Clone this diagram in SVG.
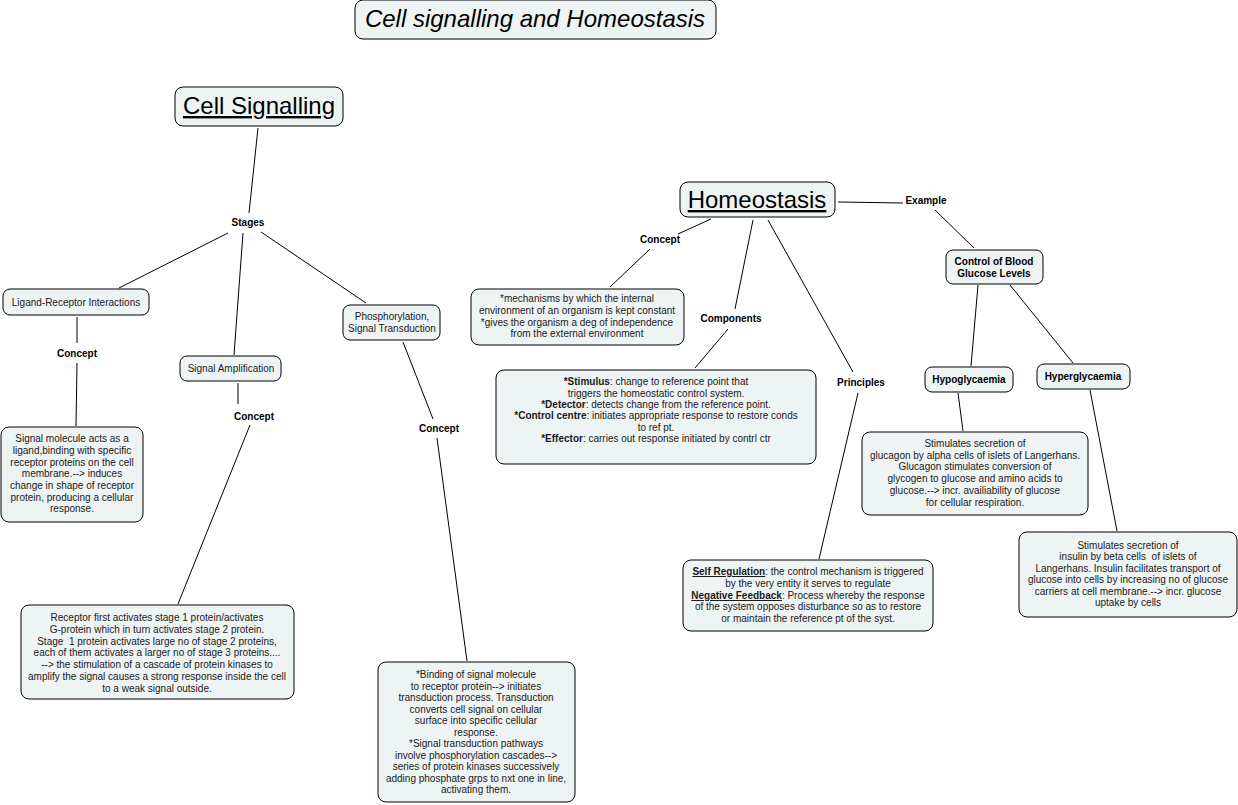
<svg xmlns="http://www.w3.org/2000/svg" width="1238" height="805" viewBox="0 0 1238 805">
<style>
.box{fill:#eef3f4;stroke:#000;stroke-width:1}
.t{font-family:"Liberation Sans",Arial,sans-serif;font-size:10px;fill:#1a1a1a;text-anchor:middle;white-space:pre}
.lb{font-family:"Liberation Sans",Arial,sans-serif;font-size:10px;font-weight:bold;fill:#000;text-anchor:middle}
.big{font-family:"Liberation Sans",Arial,sans-serif;font-size:24px;fill:#000;text-anchor:middle}
.b{font-weight:bold}
.u{text-decoration:underline}
.c line{stroke:#000;stroke-width:1}
</style>
<rect width="1238" height="805" fill="#fff"/>
<g class="c" id="connectors">
<line x1="258" y1="128" x2="249" y2="213"/>
<line x1="228" y1="233" x2="119" y2="288"/>
<line x1="243" y1="233" x2="234" y2="355"/>
<line x1="261" y1="232" x2="366" y2="303"/>
<line x1="77" y1="317" x2="77" y2="343"/>
<line x1="77" y1="363" x2="76" y2="426"/>
<line x1="238" y1="383" x2="238" y2="404"/>
<line x1="250" y1="425" x2="178" y2="604"/>
<line x1="403" y1="342" x2="433" y2="419"/>
<line x1="437" y1="438" x2="467" y2="661"/>
<line x1="711" y1="219" x2="678" y2="234"/>
<line x1="650" y1="249" x2="610" y2="287"/>
<line x1="753" y1="220" x2="735" y2="309"/>
<line x1="728" y1="329" x2="695" y2="368"/>
<line x1="768" y1="220" x2="853" y2="372"/>
<line x1="858" y1="393" x2="819" y2="559"/>
<line x1="838" y1="202" x2="903" y2="203"/>
<line x1="935" y1="210" x2="974" y2="248"/>
<line x1="978" y1="285" x2="971" y2="366"/>
<line x1="1010" y1="285" x2="1073" y2="363"/>
<line x1="958" y1="393" x2="963" y2="431"/>
<line x1="1090" y1="390" x2="1117" y2="531"/>
</g>
<g id="title"><rect class="box" x="355" y="0" width="361" height="39" rx="8"/><text class="big" x="535" y="27" font-style="italic">Cell signalling and Homeostasis</text></g>
<g id="cell-signalling"><rect class="box" x="175" y="87" width="168" height="39" rx="8"/><text class="big u" x="259" y="114">Cell Signalling</text></g>
<g id="stages"><text class="lb" x="248" y="226">Stages</text></g>
<g id="ligand"><rect class="box" x="3" y="289" width="146" height="26" rx="7"/><text class="t" x="76" y="306">Ligand-Receptor Interactions</text></g>
<g id="concept1"><text class="lb" x="77" y="357">Concept</text></g>
<g id="signal-molecule"><rect class="box" x="1" y="427" width="142" height="95" rx="8"/>
<text class="t" x="72" y="442">Signal molecule acts as a</text>
<text class="t" x="72" y="454">ligand,binding with specific</text>
<text class="t" x="72" y="466">receptor proteins on the cell</text>
<text class="t" x="72" y="477">membrane.--&gt; induces</text>
<text class="t" x="72" y="489">change in shape of receptor</text>
<text class="t" x="72" y="501">protein, producing a cellular</text>
<text class="t" x="72" y="512">response.</text></g>
<g id="signal-amp"><rect class="box" x="180" y="356" width="101" height="25" rx="7"/><text class="t" x="231" y="372">Signal Amplification</text></g>
<g id="concept2"><text class="lb" x="254" y="420">Concept</text></g>
<g id="receptor"><rect class="box" x="21" y="605" width="273" height="94" rx="8"/>
<text class="t" x="157" y="621">Receptor first activates stage 1 protein/activates</text>
<text class="t" x="157" y="633">G-protein which in turn activates stage 2 protein.</text>
<text class="t" x="157" y="645">Stage  1 protein activates large no of stage 2 proteins,</text>
<text class="t" x="157" y="656">each of them activates a larger no of stage 3 proteins....</text>
<text class="t" x="157" y="668">--&gt; the stimulation of a cascade of protein kinases to</text>
<text class="t" x="157" y="680">amplify the signal causes a strong response inside the cell</text>
<text class="t" x="157" y="692">to a weak signal outside.</text></g>
<g id="phospho"><rect class="box" x="343" y="305" width="97" height="35" rx="7"/>
<text class="t" x="392" y="320">Phosphorylation,</text>
<text class="t" x="392" y="332">Signal Transduction</text></g>
<g id="concept3"><text class="lb" x="439" y="432">Concept</text></g>
<g id="binding"><rect class="box" x="378" y="662" width="197" height="140" rx="8"/>
<text class="t" x="476" y="678">*Binding of signal molecule</text>
<text class="t" x="476" y="690">to receptor protein--&gt; initiates</text>
<text class="t" x="476" y="701">transduction process. Transduction</text>
<text class="t" x="476" y="713">converts cell signal on cellular</text>
<text class="t" x="476" y="724">surface into specific cellular</text>
<text class="t" x="476" y="736">response.</text>
<text class="t" x="476" y="747">*Signal transduction pathways</text>
<text class="t" x="476" y="759">involve phosphorylation cascades--&gt;</text>
<text class="t" x="476" y="770">series of protein kinases successively</text>
<text class="t" x="476" y="782">adding phosphate grps to nxt one in line,</text>
<text class="t" x="476" y="793">activating them.</text></g>
<g id="homeostasis"><rect class="box" x="680" y="182" width="155" height="35" rx="8"/><text class="big u" x="757" y="208">Homeostasis</text></g>
<g id="concept4"><text class="lb" x="660" y="243">Concept</text></g>
<g id="h-concept"><rect class="box" x="471" y="289" width="213" height="56" rx="8"/>
<text class="t" x="577" y="302">*mechanisms by which the internal</text>
<text class="t" x="577" y="314">environment of an organism is kept constant</text>
<text class="t" x="577" y="326">*gives the organism a deg of independence</text>
<text class="t" x="577" y="337">from the external environment</text></g>
<g id="components-label"><text class="lb" x="731" y="322">Components</text></g>
<g id="components"><rect class="box" x="496" y="370" width="320" height="94" rx="8"/>
<text class="t" x="656" y="385"><tspan class="b">*Stimulus</tspan>: change to reference point that</text>
<text class="t" x="656" y="397">triggers the homeostatic control system.</text>
<text class="t" x="656" y="408"><tspan class="b">*Detector</tspan>: detects change from the reference point.</text>
<text class="t" x="656" y="419"><tspan class="b">*Control centre</tspan>: initiates appropriate response to restore conds</text>
<text class="t" x="656" y="431">to ref pt.</text>
<text class="t" x="656" y="442"><tspan class="b">*Effector</tspan>: carries out response initiated by contrl ctr</text></g>
<g id="principles-label"><text class="lb" x="861" y="386">Principles</text></g>
<g id="principles"><rect class="box" x="683" y="560" width="250" height="71" rx="8"/>
<text class="t" x="808" y="575"><tspan class="b u">Self Regulation</tspan>: the control mechanism is triggered</text>
<text class="t" x="808" y="587">by the very entity it serves to regulate</text>
<text class="t" x="808" y="599"><tspan class="b u">Negative Feedback</tspan>: Process whereby the response</text>
<text class="t" x="808" y="610">of the system opposes disturbance so as to restore</text>
<text class="t" x="808" y="622">or maintain the reference pt of the syst.</text></g>
<g id="example-label"><text class="lb" x="926" y="204">Example</text></g>
<g id="blood-glucose"><rect class="box" x="946" y="250" width="97" height="34" rx="7"/>
<text class="lb" x="994" y="265">Control of Blood</text>
<text class="lb" x="994" y="277">Glucose Levels</text></g>
<g id="hypo"><rect class="box" x="925" y="367" width="88" height="25" rx="7"/><text class="lb" x="969" y="383">Hypoglycaemia</text></g>
<g id="hyper"><rect class="box" x="1037" y="364" width="93" height="25" rx="7"/><text class="lb" x="1083" y="380">Hyperglycaemia</text></g>
<g id="glucagon"><rect class="box" x="862" y="432" width="226" height="83" rx="8"/>
<text class="t" x="975" y="447">Stimulates secretion of</text>
<text class="t" x="975" y="459">glucagon by alpha cells of islets of Langerhans.</text>
<text class="t" x="975" y="470">Glucagon stimulates conversion of</text>
<text class="t" x="975" y="482">glycogen to glucose and amino acids to</text>
<text class="t" x="975" y="494">glucose.--&gt; incr. availiability of glucose</text>
<text class="t" x="975" y="506">for cellular respiration.</text></g>
<g id="insulin"><rect class="box" x="1019" y="532" width="218" height="85" rx="8"/>
<text class="t" x="1128" y="549">Stimulates secretion of</text>
<text class="t" x="1128" y="560">insulin by beta cells  of islets of</text>
<text class="t" x="1128" y="572">Langerhans. Insulin facilitates transport of</text>
<text class="t" x="1128" y="583">glucose into cells by increasing no of glucose</text>
<text class="t" x="1128" y="595">carriers at cell membrane.--&gt; incr. glucose</text>
<text class="t" x="1128" y="606">uptake by cells</text></g>
</svg>
